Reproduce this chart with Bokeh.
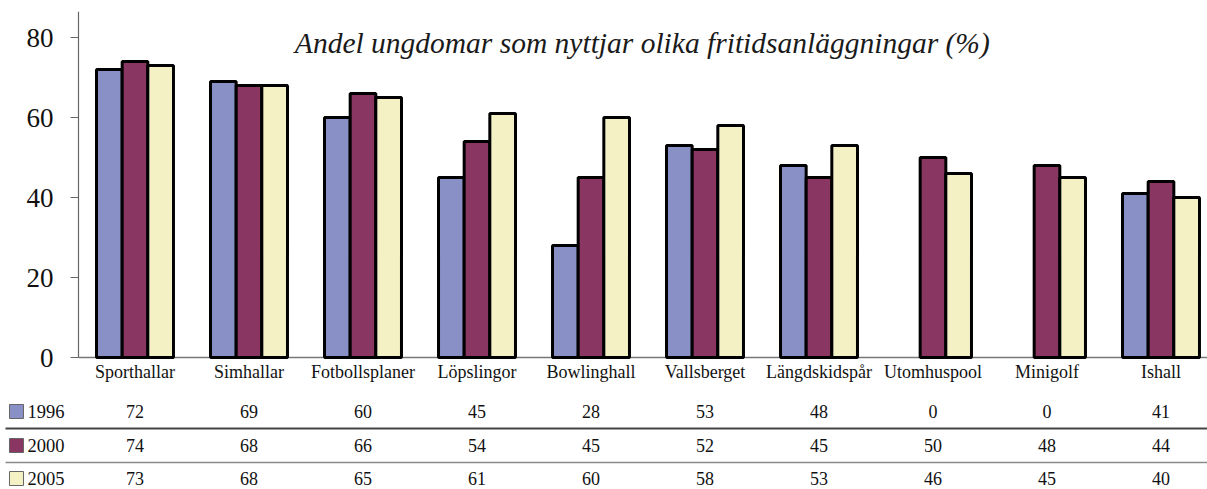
from bokeh.plotting import figure
from bokeh.models import Range1d, FixedTicker, ColumnDataSource
from bokeh.core.properties import value
from bokeh.embed import file_html
from bokeh.resources import INLINE

categories = ["Sporthallar", "Simhallar", "Fotbollsplaner", "Löpslingor", "Bowlinghall",
              "Vallsberget", "Längdskidspår", "Utomhuspool", "Minigolf", "Ishall"]
years = ["1996", "2000", "2005"]
v1996 = [72, 69, 60, 45, 28, 53, 48, 0, 0, 41]
v2000 = [74, 68, 66, 54, 45, 52, 45, 50, 48, 44]
v2005 = [73, 68, 65, 61, 60, 58, 53, 46, 45, 40]
y_ticks = [0, 20, 40, 60, 80]
title_text = "Andel ungdomar som nyttjar olika fritidsanläggningar (%)"

series = [v1996, v2000, v2005]
colors = ["#8890c6", "#8a3663", "#f4f2c4"]
offsets = [-0.225, 0.0, 0.225]
FONT = "Liberation Serif"

p = figure(width=1207, height=489, x_range=Range1d(-1.1798, 9.4079), y_range=Range1d(-33, 86.5),
           x_axis_location=None, y_axis_location="left", toolbar_location=None,
           output_backend="svg", min_border_left=0, min_border_right=0,
           min_border_top=11, min_border_bottom=0, outline_line_color=None)
p.grid.grid_line_color = None

ax = p.yaxis[0]
ax.fixed_location = -0.4956
ax.ticker = FixedTicker(ticks=y_ticks)
ax.bounds = (0, 86.5)
ax.axis_line_color = "#666666"
ax.axis_line_width = 1.2
ax.major_tick_line_color = "#666666"
ax.major_tick_out = 8
ax.major_tick_in = 0
ax.minor_tick_line_color = None
ax.major_label_standoff = 17
ax.major_label_text_font = FONT
ax.major_label_text_font_size = "27px"
ax.major_label_text_color = "#111111"

# baseline
p.segment(x0=[-0.4956], y0=[0], x1=[9.41], y1=[0], line_color="#777777", line_width=1.5)

# bars
for vals, col, off in zip(series, colors, offsets):
    xs = [i + off for i, v in enumerate(vals) if v > 0]
    tops = [v for v in vals if v > 0]
    src = ColumnDataSource(dict(x=xs, top=tops))
    p.vbar(x="x", top="top", bottom=0, width=0.225, source=src,
           fill_color=col, line_color="black", line_width=3)

# category labels
p.text(x=list(range(len(categories))), y=[-3.5] * len(categories), text=categories,
       text_align="center", text_baseline="middle", text_font=value(FONT),
       text_font_size="18px", text_color="#111111")

# data table
row_y = [-13.5, -22.0, -30.25]
line_y = [-17.75, -26.25]
line_cols = ["#444444", "#8a8a8a"]
line_w = [2, 1.5]
for vals, ry in zip(series, row_y):
    p.text(x=list(range(len(vals))), y=[ry] * len(vals), text=[str(v) for v in vals],
           text_align="center", text_baseline="middle", text_font=value(FONT),
           text_font_size="18px", text_color="#111111")

for ly, lc, lw in zip(line_y, line_cols, line_w):
    p.segment(x0=[-1.136], y0=[ly], x1=[9.41], y1=[ly], line_color=lc, line_width=lw)

p.rect(x=[-1.0395] * 3, y=row_y, width=14, height=14, width_units="screen", height_units="screen",
       fill_color=colors, line_color="#666666", line_width=1)
p.text(x=[-0.943] * 3, y=row_y, text=years, text_align="left", text_baseline="middle",
       text_font=value(FONT), text_font_size="18.5px", text_color="#111111")

p.text(x=[4.45], y=[78.75], text=[title_text], text_align="center", text_baseline="middle",
       text_font=value(FONT), text_font_style="italic", text_font_size="29.5px",
       text_color="#1a1a1a")

open("out.html", "w").write(file_html(p, INLINE))
